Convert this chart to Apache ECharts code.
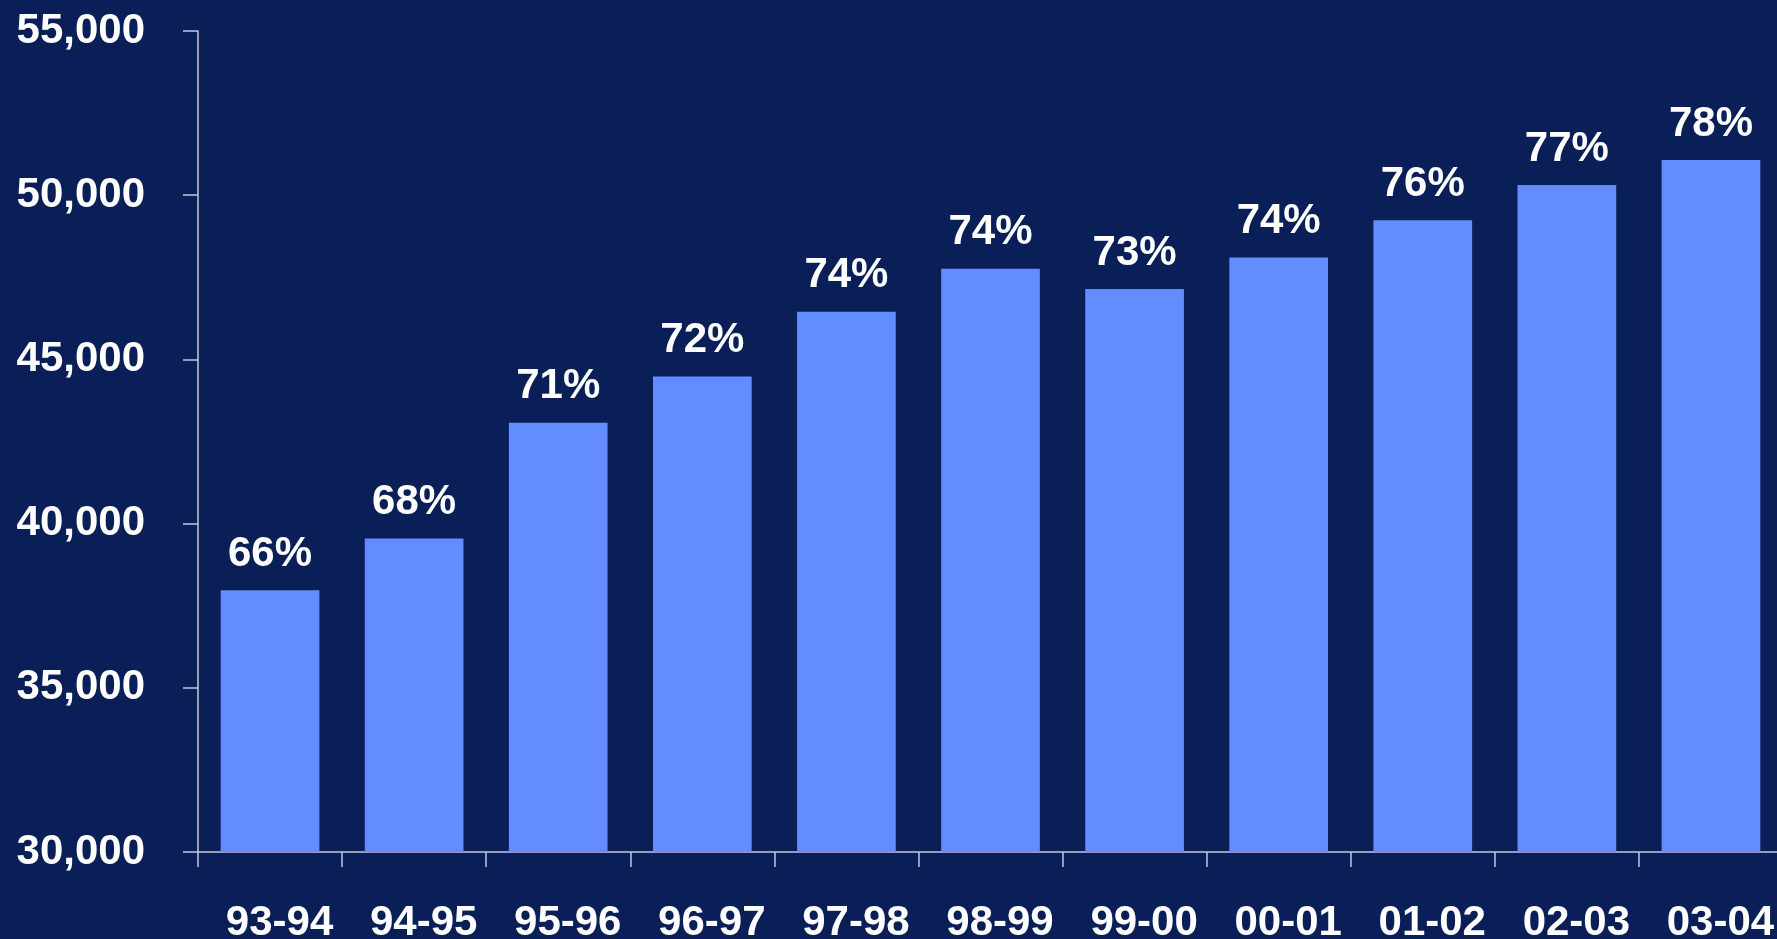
<!DOCTYPE html>
<html>
<head>
<meta charset="utf-8">
<script src="https://cdn.jsdelivr.net/npm/echarts@6/dist/echarts.min.js"></script>
<style>
html,body{margin:0;padding:0;background:#0A1E58;}
#c{width:1777px;height:939px;}
</style>
</head>
<body>
<div id="c"></div>
<script>
const categories = ['93-94','94-95','95-96','96-97','97-98','98-99','99-00','00-01','01-02','02-03','03-04'];
const values = [37970, 39550, 43070, 44480, 46450, 47760, 47140, 48100, 49240, 50310, 51070];
const pctLabels = ['66%','68%','71%','72%','74%','74%','73%','74%','76%','77%','78%'];
const yMin = 30000, yMax = 55000, yStep = 5000;

const font = '"Liberation Sans", Arial, Helvetica, sans-serif';
const axisColor = '#C4C8DA';
const chart = echarts.init(document.getElementById('c'));
chart.setOption({
  backgroundColor: '#0A1E58',
  animation: false,
  grid: { left: 198, top: 31, width: 1585, height: 821, containLabel: false, outerBoundsMode: 'none' },
  xAxis: {
    type: 'category',
    data: categories,
    axisLine: { show: true, lineStyle: { color: axisColor, width: 1.5 } },
    axisTick: { show: true, length: 15, lineStyle: { color: axisColor, width: 1.5 } },
    axisLabel: { color: '#FFFFFF', fontFamily: font, fontWeight: 'bold', fontSize: 42, margin: 50, padding: [0, 0, 0, 19] },
    splitLine: { show: false }
  },
  yAxis: {
    type: 'value',
    min: yMin, max: yMax, interval: yStep,
    axisLine: { show: true, lineStyle: { color: axisColor, width: 1.5 } },
    axisTick: { show: true, length: 15, lineStyle: { color: axisColor, width: 1.5 } },
    axisLabel: {
      color: '#FFFFFF', fontFamily: font, fontWeight: 'bold', fontSize: 42, margin: 53,
      formatter: v => v.toLocaleString('en-US')
    },
    splitLine: { show: false }
  },
  series: [{
    type: 'bar',
    data: values,
    barWidth: '68.5%',
    itemStyle: { color: '#628CFF' },
    label: {
      show: true, position: 'top', distance: 15,
      color: '#FFFFFF', fontFamily: font, fontWeight: 'bold', fontSize: 42,
      formatter: p => pctLabels[p.dataIndex]
    }
  }]
});
</script>
</body>
</html>
